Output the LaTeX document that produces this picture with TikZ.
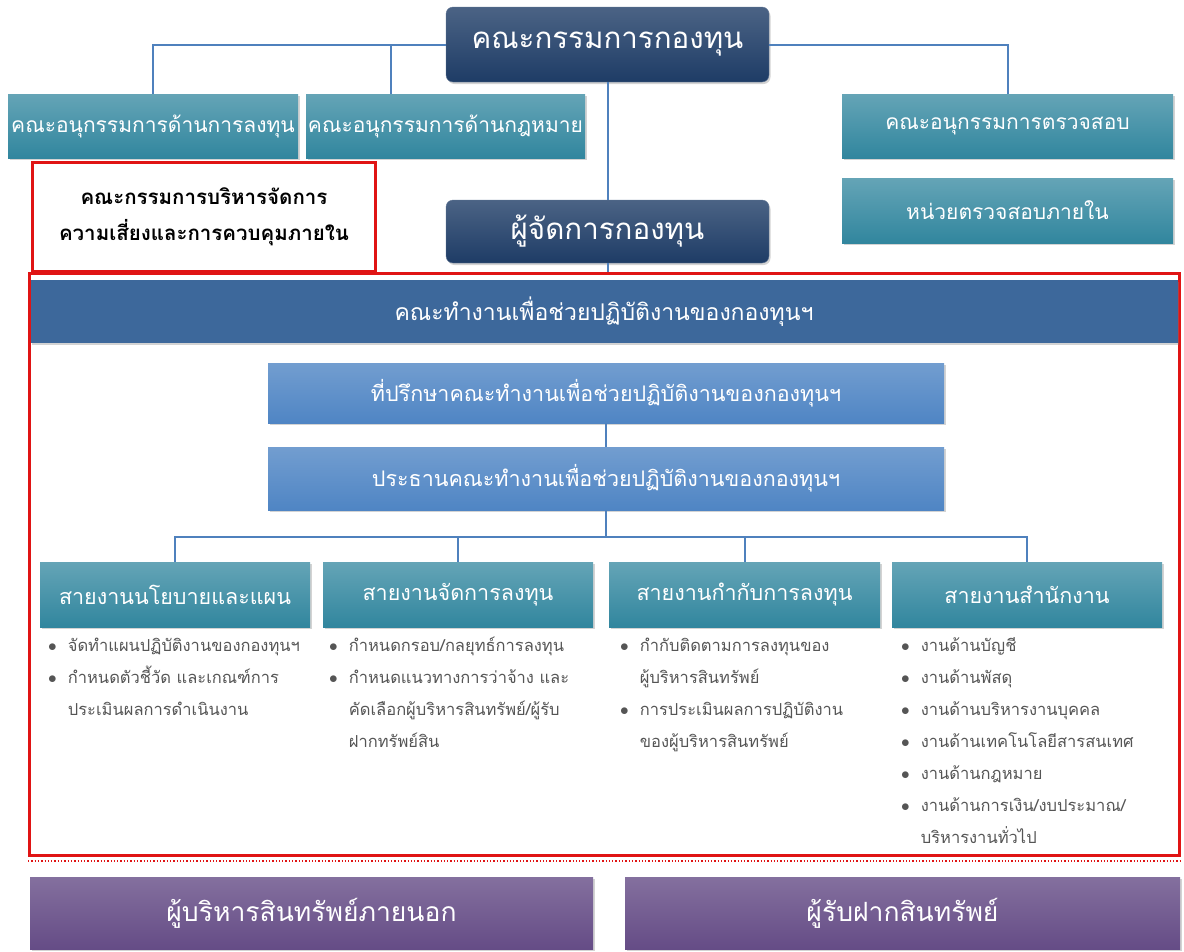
\documentclass[tikz,border=0pt]{standalone}
\usepackage{fontspec}
\newfontfamily\thai[Script=Thai]{Loma}
\usetikzlibrary{shadows}

\definecolor{navy}{HTML}{1E3C66}
\definecolor{teal}{HTML}{31869E}
\definecolor{steel}{HTML}{3D689B}
\definecolor{sky}{HTML}{4F85C4}
\definecolor{plum}{HTML}{654C86}
\definecolor{linkblue}{HTML}{4F81BD}
\definecolor{frame}{HTML}{E01414}
\definecolor{note}{HTML}{555555}

\tikzset{
  box/.style={minimum height=#1, inner sep=0pt, text=white, align=center,
    drop shadow={opacity=0.35, shadow xshift=1.5pt, shadow yshift=-2pt}},
  chief/.style={box=63pt, rounded corners=7pt, top color=navy!80, bottom color=navy,
    draw=navy!70, font=\thai\fontsize{29.5}{34}\selectfont},
  sub/.style={box=64pt, top color=teal!75, bottom color=teal, font=\thai\fontsize{21}{24}\selectfont},
  unit/.style={box=65pt, top color=teal!75, bottom color=teal, font=\thai\fontsize{21.5}{24}\selectfont},
  work/.style={box=61pt, top color=sky!80, bottom color=sky, font=\thai\fontsize{21.5}{24}\selectfont},
  partner/.style={box=72pt, top color=plum!80, bottom color=plum, font=\thai\fontsize{26.5}{30}\selectfont},
  link/.style={draw=linkblue, line width=2pt},
  notes/.style={anchor=north west, inner sep=0pt, text=note, align=left,
    font=\thai\fontsize{16.5}{32}\selectfont}
}

\begin{document}
\begin{tikzpicture}[x=1pt,y=-1pt]
  \useasboundingbox (0,0) rectangle (1184,951);

  % Board and committees
  \node[chief, minimum width=323pt, minimum height=75pt] (board) at (607.5,44.5) {คณะกรรมการกองทุน};
  \node[sub, minimum width=290pt] (subinv) at (153,126) {คณะอนุกรรมการด้านการลงทุน};
  \node[sub, minimum width=279pt] (sublaw) at (445.5,126) {คณะอนุกรรมการด้านกฎหมาย};
  \node[sub, minimum width=331pt] (subaudit) at (1007.5,126) {คณะอนุกรรมการตรวจสอบ};
  \node[sub, minimum width=331pt, minimum height=65pt] (internal) at (1007.5,210.5) {หน่วยตรวจสอบภายใน};
  \node[chief, minimum width=323pt] (manager) at (607.5,231.5) {ผู้จัดการกองทุน};

  % Risk committee
  \node[draw=frame, line width=3pt, fill=white, minimum width=343pt, minimum height=109pt,
    align=center, font=\thai\bfseries\fontsize{20.5}{36}\selectfont] (risk) at (204,216.5)
    {คณะกรรมการบริหารจัดการ\\ความเสี่ยงและการควบคุมภายใน};

  % Working group frame
  \node[draw=frame, line width=3pt, minimum width=1150pt, minimum height=582pt] (panel) at (604.5,564.5) {};
  \draw[frame, dotted, line width=1.3pt] ([yshift=-4pt]panel.south west) -- ([yshift=-4pt]panel.south east);

  \node[box=63pt, minimum width=1147pt, fill=steel, font=\thai\fontsize{23}{26}\selectfont] (header) at (604,311.5)
    {คณะทำงานเพื่อช่วยปฏิบัติงานของกองทุนฯ};
  \node[work, minimum width=676pt, minimum height=60pt] (advisor) at (606,393) {ที่ปรึกษาคณะทำงานเพื่อช่วยปฏิบัติงานของกองทุนฯ};
  \node[work, minimum width=676pt, minimum height=63pt] (chair) at (606,478.5) {ประธานคณะทำงานเพื่อช่วยปฏิบัติงานของกองทุนฯ};

  % Lines of work
  \node[unit, minimum width=270pt] (plan) at (175,594.5) {สายงานนโยบายและแผน};
  \node[unit, minimum width=270pt] (invest) at (458,594.5) {สายงานจัดการลงทุน};
  \node[unit, minimum width=271pt] (monitor) at (744.5,594.5) {สายงานกำกับการลงทุน};
  \node[unit, minimum width=270pt] (office) at (1027,594.5) {สายงานสำนักงาน};

  % Duties
  \node[notes] (plannotes) at (48,628.5) {\begin{tabular}{@{}l@{\hspace{11pt}}l@{}}
    $\bullet$ & จัดทำแผนปฏิบัติงานของกองทุนฯ\\
    $\bullet$ & กำหนดตัวชี้วัด และเกณฑ์การ\\
      & ประเมินผลการดำเนินงาน\end{tabular}};
  \node[notes] (investnotes) at (329,628.5) {\begin{tabular}{@{}l@{\hspace{11pt}}l@{}}
    $\bullet$ & กำหนดกรอบ/กลยุทธ์การลงทุน\\
    $\bullet$ & กำหนดแนวทางการว่าจ้าง และ\\
      & คัดเลือกผู้บริหารสินทรัพย์/ผู้รับ\\
      & ฝากทรัพย์สิน\end{tabular}};
  \node[notes] (monitornotes) at (620,628.5) {\begin{tabular}{@{}l@{\hspace{11pt}}l@{}}
    $\bullet$ & กำกับติดตามการลงทุนของ\\
      & ผู้บริหารสินทรัพย์\\
    $\bullet$ & การประเมินผลการปฏิบัติงาน\\
      & ของผู้บริหารสินทรัพย์\end{tabular}};
  \node[notes] (officenotes) at (901,628.5) {\begin{tabular}{@{}l@{\hspace{11pt}}l@{}}
    $\bullet$ & งานด้านบัญชี\\
    $\bullet$ & งานด้านพัสดุ\\
    $\bullet$ & งานด้านบริหารงานบุคคล\\
    $\bullet$ & งานด้านเทคโนโลยีสารสนเทศ\\
    $\bullet$ & งานด้านกฎหมาย\\
    $\bullet$ & งานด้านการเงิน/งบประมาณ/\\
      & บริหารงานทั่วไป\end{tabular}};

  % Outside parties
  \node[partner, minimum width=563pt] (external) at (311.5,913) {ผู้บริหารสินทรัพย์ภายนอก};
  \node[partner, minimum width=555pt] (custodian) at (902.5,913) {ผู้รับฝากสินทรัพย์};

  % Draw connectors
  \draw[link] (board.west) -| (subinv.north);
  \draw[link] ([xshift=-55pt]sublaw.north) -- ([xshift=-55pt]sublaw.north |- board.west);
  \draw[link] (board.east) -| (subaudit.north);
  \draw[link] (board.south) -- (manager.north);
  \draw[link] (manager.south) -- (manager.south |- panel.north);
  \draw[link] (advisor.south) -- (chair.north);
  \draw[link] (chair.south) -- ++(0,26.5) coordinate (bus);
  \foreach \n in {plan,invest,monitor,office}
    \draw[link] (bus) -| (\n.north);
\end{tikzpicture}
\end{document}
